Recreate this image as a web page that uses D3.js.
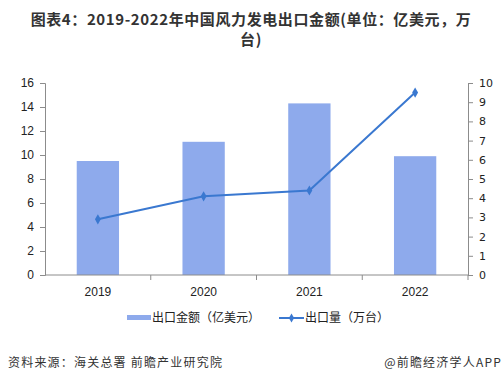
<!DOCTYPE html>
<html><head><meta charset="utf-8">
<script src="https://cdn.jsdelivr.net/npm/d3@7"></script>
<style>body{margin:0;background:#fff}svg{display:block}</style>
</head><body>
<svg id="c" width="503" height="382"></svg>
<script>
const categories = ["2019","2020","2021","2022"];
const exportValue = [9.5, 11.1, 14.3, 9.9];   // 出口金额（亿美元）
const exportVolume = [2.9, 4.1, 4.4, 9.5];    // 出口量（万台）
const leftTicks = [0,2,4,6,8,10,12,14,16];
const rightTicks = [0,1,2,3,4,5,6,7,8,9,10];

const svg = d3.select("#c");
const font = "'Liberation Sans', Arial, 'Noto Sans CJK SC', sans-serif";
const cjk = "'Noto Sans CJK SC', 'Liberation Sans', sans-serif";
const pL = 45, pR = 468, pT = 83, pB = 275;
const barColor = "#8eaaec", lineColor = "#3a78d0", axisColor = "#8c8c8c";

// Title (two lines)
const tg = svg.append("g").attr("font-family", cjk).attr("font-weight", "bold")
  .attr("font-size", 15).attr("letter-spacing", 0.6).attr("fill", "#333").attr("text-anchor", "middle");
tg.append("text").attr("x", 251).attr("y", 25).text("图表4：2019-2022年中国风力发电出口金额(单位：亿美元，万");
tg.append("text").attr("x", 251).attr("y", 45).text("台)");

const x = d3.scaleBand().domain(categories).range([pL, pR]).paddingInner(0.6).paddingOuter(0.3);
const xb = d3.scaleBand().domain(categories).range([pL, pR]);
const yL = d3.scaleLinear().domain([0,16]).range([pB, pT]);
const yR = d3.scaleLinear().domain([0,10]).range([pB, pT]);

// Bars
svg.append("g").selectAll("rect").data(exportValue).join("rect")
  .attr("x", (d,i) => x(categories[i])).attr("width", x.bandwidth())
  .attr("y", d => yL(d)).attr("height", d => pB - yL(d)).attr("fill", barColor);

// Axes
const axL = svg.append("g").attr("transform", `translate(${pL},0)`)
  .call(d3.axisLeft(yL).tickValues(leftTicks).tickSize(5).tickPadding(6));
const axR = svg.append("g").attr("transform", `translate(${pR},0)`)
  .call(d3.axisRight(yR).tickValues(rightTicks).tickSize(5).tickPadding(6));
const axX = svg.append("g").attr("transform", `translate(0,${pB})`)
  .call(d3.axisBottom(xb).tickSize(0).tickPadding(12));
[axL, axR, axX].forEach(a => {
  a.selectAll("path,line").attr("stroke", axisColor);
  a.selectAll("text").attr("font-family", font).attr("font-size", 12).attr("fill", "#222");
});
axR.selectAll("text").attr("font-family", "'DejaVu Sans', sans-serif").attr("font-size", 11);
axX.select(".domain").attr("d", `M${pL},0H${pR}`);
// x boundary ticks
svg.append("g").selectAll("line").data(categories.slice(1).concat(["end"])).join("line")
  .attr("x1", (d,i) => i < 3 ? xb(d) : pR).attr("x2", (d,i) => i < 3 ? xb(d) : pR)
  .attr("y1", pB).attr("y2", pB + 5).attr("stroke", axisColor);

// Line
const cx = (i) => xb(categories[i]) + xb.bandwidth()/2;
const line = d3.line().x((d,i) => cx(i)).y(d => yR(d));
svg.append("path").datum(exportVolume).attr("d", line).attr("fill", "none")
  .attr("stroke", lineColor).attr("stroke-width", 2);
svg.append("g").selectAll("path").data(exportVolume).join("path")
  .attr("d", d3.symbol(d3.symbolDiamond, 30)())
  .attr("transform", (d,i) => `translate(${cx(i)},${yR(d)})`).attr("fill", lineColor);

// Legend
const lg = svg.append("g").attr("font-family", cjk).attr("font-size", 12).attr("fill", "#222");
lg.append("rect").attr("x", 127).attr("y", 315).attr("width", 24).attr("height", 5).attr("fill", barColor);
lg.append("text").attr("x", 152).attr("y", 322).text("出口金额（亿美元）");
lg.append("line").attr("x1", 279).attr("x2", 304).attr("y1", 318).attr("y2", 318).attr("stroke", lineColor).attr("stroke-width", 2);
lg.append("path").attr("d", d3.symbol(d3.symbolDiamond, 24)()).attr("transform", "translate(291.5,318)").attr("fill", lineColor);
lg.append("text").attr("x", 305).attr("y", 322).text("出口量（万台）");

// Footer
const ft = svg.append("g").attr("font-family", cjk).attr("font-size", 12).attr("fill", "#333")
  .attr("letter-spacing", 1.2);
ft.append("text").attr("x", 8).attr("y", 367).text("资料来源：海关总署 前瞻产业研究院");
ft.append("text").attr("x", 502).attr("y", 367).attr("text-anchor", "end").text("@前瞻经济学人APP");
</script>
</body></html>
